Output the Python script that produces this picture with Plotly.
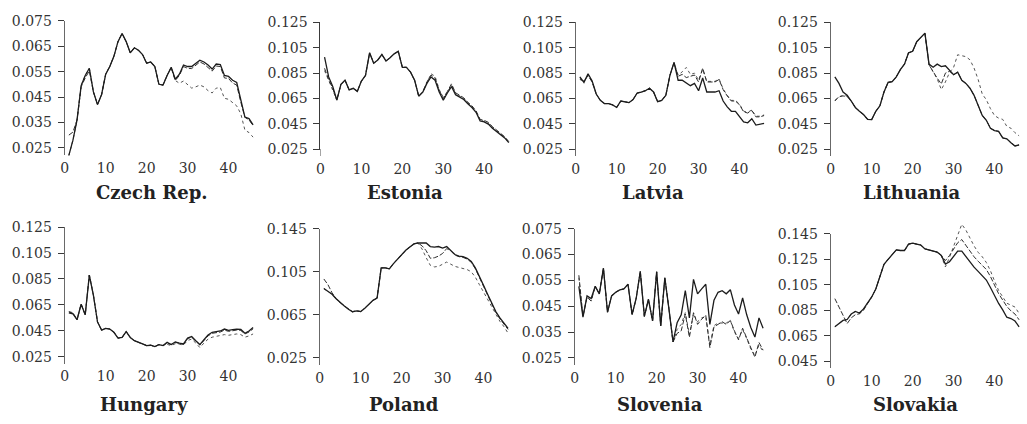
import plotly.graph_objects as go

# ---------------------------------------------------------------- data
periods = list(range(1, 47))
x_ticks = [0, 10, 20, 30, 40]

titles = ["Czech Rep.", "Estonia", "Latvia", "Lithuania",
          "Hungary", "Poland", "Slovenia", "Slovakia"]

y_ticks_cz = [0.025, 0.035, 0.045, 0.055, 0.065, 0.075]
y_ticks_balt = [0.025, 0.045, 0.065, 0.085, 0.105, 0.125]
y_ticks_pl = [0.025, 0.065, 0.105, 0.145]
y_ticks_si = [0.025, 0.035, 0.045, 0.055, 0.065, 0.075]
y_ticks_sk = [0.045, 0.065, 0.085, 0.105, 0.125, 0.145]

cz_solid = [0.022, 0.028, 0.036, 0.0495, 0.0535, 0.0563, 0.047, 0.042, 0.046, 0.054,
            0.057, 0.061, 0.0668, 0.070, 0.0668, 0.0624, 0.0644, 0.0634, 0.0617, 0.0583,
            0.0588, 0.057, 0.050, 0.0497, 0.0535, 0.0567, 0.052, 0.054, 0.0576, 0.057,
            0.057, 0.0583, 0.0595, 0.0588, 0.0576, 0.056, 0.058, 0.0578, 0.0535, 0.0531,
            0.0516, 0.0507, 0.0434, 0.0371, 0.0365, 0.034]
cz_dash = [0.030, 0.0312, 0.036, 0.049, 0.0525, 0.0553, 0.047, 0.042, 0.046, 0.054,
           0.057, 0.061, 0.0668, 0.070, 0.0668, 0.0624, 0.0644, 0.0634, 0.0617, 0.0583,
           0.0588, 0.057, 0.050, 0.0497, 0.0535, 0.0565, 0.0515, 0.0535, 0.057, 0.0563,
           0.0562, 0.0575, 0.0588, 0.058, 0.0567, 0.0552, 0.0572, 0.057, 0.0525, 0.0523,
           0.0505, 0.0497, 0.043, 0.037, 0.036, 0.0338]
cz_dot = [0.022, 0.028, 0.036, 0.0495, 0.0535, 0.0563, 0.047, 0.042, 0.046, 0.054,
          0.057, 0.061, 0.0668, 0.070, 0.0668, 0.0624, 0.0644, 0.0634, 0.0617, 0.0583,
          0.0588, 0.057, 0.050, 0.0497, 0.0535, 0.0567, 0.0515, 0.0504, 0.0513, 0.0497,
          0.0485, 0.049, 0.0497, 0.049, 0.0475, 0.0466, 0.0485, 0.0487, 0.0445, 0.0441,
          0.0428, 0.0415, 0.0384, 0.032, 0.031, 0.0292]

ee_solid = [0.0977, 0.082, 0.0744, 0.0637, 0.0761, 0.0794, 0.0718, 0.073, 0.0706, 0.0787,
            0.0832, 0.101, 0.0928, 0.0954, 0.0997, 0.0946, 0.0972, 0.1002, 0.1022, 0.0896,
            0.0896, 0.0858, 0.0794, 0.0668, 0.0701, 0.0769, 0.082, 0.0794, 0.0701, 0.0637,
            0.0693, 0.0744, 0.068, 0.066, 0.0642, 0.0609, 0.0579, 0.0541, 0.0473, 0.0465,
            0.0448, 0.0415, 0.039, 0.0364, 0.0339, 0.0301]
ee_dash = [0.0888, 0.080, 0.073, 0.0637, 0.0761, 0.0794, 0.0718, 0.073, 0.0706, 0.0787,
           0.0832, 0.101, 0.0928, 0.0954, 0.0997, 0.0946, 0.0972, 0.1002, 0.1022, 0.0896,
           0.0896, 0.0858, 0.0794, 0.0668, 0.0701, 0.078, 0.0835, 0.081, 0.0715, 0.065,
           0.0705, 0.0765, 0.0695, 0.0672, 0.0655, 0.062, 0.0592, 0.0552, 0.0485, 0.0477,
           0.0462, 0.0428, 0.040, 0.0375, 0.0348, 0.031]
ee_dot = [0.087, 0.079, 0.072, 0.0637, 0.0761, 0.0794, 0.0718, 0.073, 0.0706, 0.0787,
          0.0832, 0.101, 0.0928, 0.0954, 0.0997, 0.0946, 0.0972, 0.1002, 0.1022, 0.0896,
          0.0896, 0.0858, 0.0794, 0.0668, 0.0701, 0.0775, 0.0845, 0.0825, 0.072, 0.066,
          0.070, 0.0755, 0.069, 0.067, 0.065, 0.0615, 0.0585, 0.0548, 0.048, 0.047,
          0.0455, 0.0422, 0.0395, 0.037, 0.0343, 0.0305]

lv_solid = [0.082, 0.0777, 0.0845, 0.0787, 0.0685, 0.0635, 0.061, 0.061, 0.0599, 0.0579,
            0.063, 0.0625, 0.0617, 0.0642, 0.0693, 0.0701, 0.0711, 0.0731, 0.0701, 0.0625,
            0.0635, 0.0675, 0.0832, 0.0934, 0.0794, 0.0794, 0.0769, 0.0751, 0.0769, 0.0711,
            0.0812, 0.0701, 0.0701, 0.0701, 0.0711, 0.063, 0.0584, 0.0549, 0.0549, 0.0508,
            0.0465, 0.0458, 0.049, 0.044, 0.0448, 0.0453]
lv_dash = [0.080, 0.0787, 0.083, 0.078, 0.0685, 0.0635, 0.061, 0.061, 0.0599, 0.0579,
           0.063, 0.0625, 0.0617, 0.0642, 0.0693, 0.0701, 0.0711, 0.0731, 0.0701, 0.0625,
           0.0635, 0.0675, 0.0832, 0.0934, 0.0825, 0.084, 0.0815, 0.0825, 0.0835, 0.078,
           0.089, 0.078, 0.078, 0.078, 0.080, 0.072, 0.067, 0.063, 0.063, 0.060,
           0.0545, 0.0535, 0.0555, 0.0505, 0.0505, 0.0515]
lv_dot = [0.081, 0.0782, 0.0838, 0.0784, 0.0685, 0.0635, 0.061, 0.061, 0.0599, 0.0579,
          0.063, 0.0625, 0.0617, 0.0642, 0.0693, 0.0701, 0.0711, 0.0731, 0.0701, 0.0625,
          0.0635, 0.0675, 0.0832, 0.0934, 0.0835, 0.086, 0.0895, 0.084, 0.085, 0.0795,
          0.088, 0.0785, 0.0785, 0.0785, 0.0805, 0.0725, 0.0675, 0.0635, 0.0635, 0.0605,
          0.055, 0.054, 0.056, 0.051, 0.051, 0.052]

lt_solid = [0.082, 0.0769, 0.0701, 0.0675, 0.063, 0.0579, 0.0549, 0.0523, 0.0485, 0.0483,
            0.0549, 0.0592, 0.0701, 0.0777, 0.0782, 0.082, 0.0878, 0.0921, 0.101, 0.1022,
            0.1098, 0.1131, 0.1166, 0.0921, 0.0896, 0.0921, 0.0901, 0.0908, 0.087, 0.0837,
            0.0858, 0.0794, 0.0769, 0.0731, 0.0675, 0.0592, 0.0516, 0.0478, 0.0415, 0.0397,
            0.039, 0.0339, 0.0331, 0.0301, 0.0275, 0.0283]
lt_dash = [0.063, 0.0665, 0.067, 0.0665, 0.063, 0.0579, 0.0549, 0.0523, 0.0485, 0.0483,
           0.0549, 0.0592, 0.0701, 0.0777, 0.0782, 0.082, 0.0878, 0.0921, 0.101, 0.1022,
           0.1098, 0.1131, 0.1166, 0.0915, 0.086, 0.081, 0.0765, 0.085, 0.0865, 0.0837,
           0.0858, 0.0794, 0.0769, 0.0731, 0.0675, 0.0592, 0.0516, 0.0478, 0.0415, 0.0397,
           0.039, 0.0339, 0.0331, 0.0301, 0.0275, 0.0283]
lt_dot = [0.0635, 0.066, 0.0675, 0.067, 0.063, 0.0579, 0.0549, 0.0523, 0.0485, 0.0483,
          0.0549, 0.0592, 0.0701, 0.0777, 0.0782, 0.082, 0.0878, 0.0921, 0.101, 0.1022,
          0.1098, 0.1131, 0.1166, 0.0915, 0.0865, 0.0805, 0.072, 0.078, 0.0855, 0.0895,
          0.0995, 0.099, 0.098, 0.0955, 0.089, 0.080, 0.0685, 0.064, 0.057, 0.0515,
          0.0495, 0.0485, 0.043, 0.0415, 0.038, 0.0355]

hu_solid = [0.0588, 0.058, 0.0535, 0.0655, 0.0573, 0.088, 0.0723, 0.0518, 0.0455, 0.0468,
            0.0463, 0.0438, 0.0393, 0.0398, 0.0443, 0.0398, 0.0373, 0.0363, 0.0348, 0.0335,
            0.0338, 0.0328, 0.0343, 0.0335, 0.036, 0.0343, 0.0363, 0.0355, 0.0348, 0.0393,
            0.0405, 0.0373, 0.0343, 0.038, 0.0418, 0.0438, 0.0443, 0.0448, 0.0463, 0.0453,
            0.0458, 0.0463, 0.046, 0.043, 0.0448, 0.0475]
hu_dash = [0.0595, 0.0585, 0.0535, 0.0655, 0.0573, 0.088, 0.0723, 0.0518, 0.0455, 0.0468,
           0.0463, 0.0438, 0.0393, 0.0398, 0.0443, 0.0398, 0.0373, 0.0363, 0.0348, 0.0335,
           0.0338, 0.0328, 0.0343, 0.0335, 0.0355, 0.0343, 0.036, 0.0352, 0.0345, 0.039,
           0.040, 0.037, 0.034, 0.0375, 0.041, 0.043, 0.0435, 0.044, 0.0455, 0.0445,
           0.045, 0.0455, 0.0452, 0.0425, 0.044, 0.0465]
hu_dot = [0.0598, 0.059, 0.0535, 0.0655, 0.0573, 0.088, 0.0723, 0.0518, 0.0455, 0.0468,
          0.0463, 0.0438, 0.0393, 0.0398, 0.0443, 0.0398, 0.0373, 0.0363, 0.0348, 0.0335,
          0.0338, 0.0328, 0.0343, 0.0335, 0.0345, 0.0335, 0.035, 0.0345, 0.034, 0.0375,
          0.0385, 0.0355, 0.032, 0.0355, 0.0385, 0.040, 0.0405, 0.041, 0.042, 0.0415,
          0.042, 0.0425, 0.042, 0.040, 0.041, 0.0425]

pl_solid = [0.0894, 0.0865, 0.0841, 0.080, 0.0761, 0.0732, 0.0702, 0.0679, 0.0687, 0.0681,
            0.0711, 0.0746, 0.0785, 0.0806, 0.1086, 0.1086, 0.1077, 0.1125, 0.1166, 0.121,
            0.1249, 0.1279, 0.1308, 0.1317, 0.1317, 0.1317, 0.1284, 0.1279, 0.1284, 0.127,
            0.1284, 0.1249, 0.121, 0.1196, 0.119, 0.1175, 0.1146, 0.1086, 0.0998, 0.0924,
            0.0841, 0.0761, 0.0681, 0.0622, 0.0569, 0.0525]
pl_dash = [0.0983, 0.093, 0.0855, 0.080, 0.0761, 0.0732, 0.0702, 0.0679, 0.0687, 0.0681,
           0.0711, 0.0746, 0.0785, 0.0806, 0.1086, 0.1086, 0.1077, 0.1125, 0.1166, 0.121,
           0.1249, 0.1279, 0.1308, 0.1317, 0.129, 0.1245, 0.1175, 0.118, 0.1195, 0.122,
           0.1265, 0.1245, 0.1205, 0.119, 0.1183, 0.1168, 0.1138, 0.1078, 0.099, 0.0915,
           0.0833, 0.0753, 0.0673, 0.0613, 0.056, 0.0515]
pl_dot = [0.0894, 0.0865, 0.0841, 0.080, 0.0761, 0.0732, 0.0702, 0.0679, 0.0687, 0.0681,
          0.0711, 0.0746, 0.0785, 0.0806, 0.1086, 0.1086, 0.1077, 0.1125, 0.1166, 0.121,
          0.1249, 0.1279, 0.1308, 0.1317, 0.126, 0.118, 0.111, 0.1095, 0.110, 0.112,
          0.114, 0.112, 0.110, 0.109, 0.108, 0.107, 0.105, 0.100, 0.093, 0.086,
          0.079, 0.072, 0.065, 0.059, 0.054, 0.048]

si_solid = [0.0527, 0.0408, 0.049, 0.048, 0.0527, 0.0498, 0.0597, 0.0427, 0.049, 0.0504,
            0.0513, 0.0517, 0.0535, 0.0418, 0.048, 0.0585, 0.0411, 0.0477, 0.0393, 0.0583,
            0.0374, 0.056, 0.044, 0.0312, 0.0386, 0.0417, 0.051, 0.0405, 0.0554, 0.0498,
            0.0517, 0.0535, 0.038, 0.0473, 0.0504, 0.051, 0.0498, 0.0514, 0.0455, 0.042,
            0.0482, 0.0417, 0.0368, 0.0331, 0.0405, 0.0365]
si_dash = [0.057, 0.041, 0.0485, 0.047, 0.0527, 0.0498, 0.0597, 0.0427, 0.049, 0.0504,
           0.0513, 0.0517, 0.0535, 0.0418, 0.048, 0.0585, 0.0411, 0.0477, 0.0393, 0.0583,
           0.0374, 0.056, 0.044, 0.0312, 0.0345, 0.0355, 0.042, 0.033, 0.0425, 0.038,
           0.040, 0.0415, 0.029, 0.037, 0.038, 0.039, 0.038, 0.0395, 0.0355, 0.032,
           0.0365, 0.033, 0.029, 0.0253, 0.031, 0.028]
si_dot = [0.056, 0.0412, 0.0487, 0.0472, 0.0527, 0.0498, 0.0597, 0.0427, 0.049, 0.0504,
          0.0513, 0.0517, 0.0535, 0.0418, 0.048, 0.0585, 0.0411, 0.0477, 0.0393, 0.0583,
          0.0374, 0.056, 0.044, 0.0312, 0.036, 0.038, 0.0425, 0.034, 0.042, 0.039,
          0.0405, 0.041, 0.030, 0.0375, 0.0385, 0.0385, 0.0385, 0.0395, 0.035, 0.0325,
          0.036, 0.0325, 0.0285, 0.026, 0.030, 0.0275]

sk_solid = [0.072, 0.0745, 0.077, 0.0777, 0.082, 0.084, 0.0828, 0.086, 0.0903, 0.0954,
            0.1017, 0.1118, 0.1211, 0.1249, 0.1286, 0.1324, 0.1319, 0.1319, 0.1369, 0.1377,
            0.1369, 0.1362, 0.1332, 0.1324, 0.1314, 0.1306, 0.1281, 0.1213, 0.1231, 0.1274,
            0.1314, 0.1314, 0.1269, 0.1231, 0.1188, 0.1155, 0.1123, 0.1087, 0.1029, 0.0961,
            0.0903, 0.0853, 0.0795, 0.0785, 0.0765, 0.072]
sk_dash = [0.0941, 0.0875, 0.081, 0.0745, 0.079, 0.0815, 0.0822, 0.085, 0.0903, 0.0954,
           0.1017, 0.1118, 0.1211, 0.1249, 0.1286, 0.1324, 0.1319, 0.1319, 0.1369, 0.1377,
           0.1369, 0.1362, 0.1332, 0.1324, 0.1314, 0.1306, 0.1281, 0.124, 0.128, 0.133,
           0.138, 0.1405, 0.136, 0.131, 0.127, 0.1235, 0.1205, 0.117, 0.1115, 0.1045,
           0.098, 0.093, 0.088, 0.0845, 0.082, 0.0775]
sk_dot = [0.072, 0.0745, 0.077, 0.0777, 0.082, 0.084, 0.0828, 0.086, 0.0903, 0.0954,
          0.1017, 0.1118, 0.1211, 0.1249, 0.1286, 0.1324, 0.1319, 0.1319, 0.1369, 0.1377,
          0.1369, 0.1362, 0.1332, 0.1324, 0.1314, 0.1306, 0.1275, 0.119, 0.1265, 0.135,
          0.1435, 0.1525, 0.148, 0.1415, 0.1355, 0.1305, 0.127, 0.1225, 0.116, 0.108,
          0.1005, 0.0955, 0.0905, 0.089, 0.0875, 0.0825]

series = [
    (cz_solid, cz_dash, cz_dot, y_ticks_cz),
    (ee_solid, ee_dash, ee_dot, y_ticks_balt),
    (lv_solid, lv_dash, lv_dot, y_ticks_balt),
    (lt_solid, lt_dash, lt_dot, y_ticks_balt),
    (hu_solid, hu_dash, hu_dot, y_ticks_balt),
    (pl_solid, pl_dash, pl_dot, y_ticks_pl),
    (si_solid, si_dash, si_dot, y_ticks_si),
    (sk_solid, sk_dash, sk_dot, y_ticks_sk),
]

# ---------------------------------------------------------------- layout geometry (pixels)
W, H = 1027, 424
X_MAX = 46.8
PX_PER_UNIT = 4.11
# left edge of y axis, top tick, bottom tick, title centre x, title centre y
frames = [
    (61.0, 13.3, 145.3, 149, 192),
    (317.7, 15.0, 146.7, 403, 192),
    (574.0, 15.0, 146.7, 652, 192),
    (830.0, 15.0, 146.7, 912, 192),
    (61.0, 227.7, 362.3, 141, 412),
    (317.0, 229.3, 363.7, 402, 412),
    (573.0, 229.3, 363.7, 659, 412),
    (830.0, 234.7, 367.0, 915, 412),
]
OVERSHOOT_PX = 12  # lines may run a little past the axis ends

FONT = "DejaVu Serif"
AX_COLOR = "#3a3a3a"
TXT_COLOR = "#333333"
TICK_SIZE = 14

fig = go.Figure()
layout = dict(
    width=W, height=H,
    margin=dict(l=0, r=0, t=0, b=0),
    paper_bgcolor="white", plot_bgcolor="white",
    showlegend=False,
    font=dict(family=FONT, size=TICK_SIZE, color=TXT_COLOR),
)
annotations = []

styles = [
    ("dot", 1.0, "#555555", 2),
    ("5px,2px", 1.0, "#2e2e2e", 1),
    ("solid", 1.3, "#1c1c1c", 0),
]

for i, ((s_solid, s_dash, s_dot, yt), (x0, yt_px, yb_px, tx, ty)) in enumerate(zip(series, frames), start=1):
    ylo, yhi = yt[0], yt[-1]
    x_dom = [x0 / W, (x0 + X_MAX * PX_PER_UNIT) / W]
    y_dom = [1 - yb_px / H, 1 - yt_px / H]
    units_per_px = (yhi - ylo) / (yb_px - yt_px)

    # visible axes
    layout[f"xaxis{i}"] = dict(
        domain=x_dom, range=[0, X_MAX], anchor=f"y{i}",
        tickmode="array", tickvals=x_ticks, ticktext=[str(v) for v in x_ticks],
        showline=True, linecolor=AX_COLOR, linewidth=1,
        ticks="outside", ticklen=6, tickwidth=1, tickcolor=AX_COLOR,
        showgrid=False, zeroline=False, fixedrange=True,
        tickfont=dict(family=FONT, size=TICK_SIZE, color=TXT_COLOR),
        ticklabelstandoff=1,
    )
    layout[f"yaxis{i}"] = dict(
        domain=y_dom, range=[ylo, yhi], anchor=f"x{i}",
        tickmode="array", tickvals=yt, ticktext=[f"{v:.3f}" for v in yt],
        showline=True, linecolor=AX_COLOR, linewidth=1,
        ticks="outside", ticklen=6, tickwidth=1, tickcolor=AX_COLOR,
        showgrid=False, zeroline=False, fixedrange=True,
        tickfont=dict(family=FONT, size=TICK_SIZE, color=TXT_COLOR),
        ticklabelstandoff=3,
    )
    # empty trace that registers the framed subplot so both axes are drawn
    fig.add_trace(go.Scatter(x=[None], y=[None], mode="lines",
                             xaxis=f"x{i}", yaxis=f"y{i}", hoverinfo="skip"))

    # hidden y axis with the same scale but a slightly taller window for the lines
    k = i + 8
    top_px = max(yt_px - OVERSHOOT_PX, 0.0)
    bot_px = min(yb_px + OVERSHOOT_PX, H)
    ext_hi = yhi + (yt_px - top_px) * units_per_px
    ext_lo = ylo - (bot_px - yb_px) * units_per_px
    layout[f"yaxis{k}"] = dict(
        domain=[1 - bot_px / H, 1 - top_px / H],
        range=[ext_lo, ext_hi], anchor=f"x{i}", visible=False,
        showgrid=False, zeroline=False, fixedrange=True,
    )

    for (dash, width, color, idx) in styles:
        yvals = (s_solid, s_dash, s_dot)[idx]
        fig.add_trace(go.Scatter(
            x=periods, y=yvals, mode="lines",
            line=dict(dash=dash, width=width, color=color),
            xaxis=f"x{i}", yaxis=f"y{k}", hoverinfo="skip",
        ))

    annotations.append(dict(
        text=titles[i - 1], xref="paper", yref="paper",
        x=tx / W, y=1 - ty / H, xanchor="center", yanchor="middle",
        showarrow=False,
        font=dict(family=FONT, size=18, color="#222222", weight="bold"),
    ))

layout["annotations"] = annotations
fig.update_layout(**layout)
fig.write_html("out.html")
